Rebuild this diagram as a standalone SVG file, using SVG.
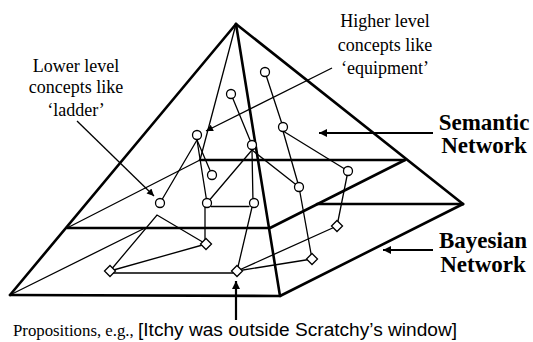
<svg xmlns="http://www.w3.org/2000/svg" width="533" height="342" viewBox="0 0 533 342">
<defs>
<style>
.thick{stroke:#000;stroke-width:2.6;fill:none;stroke-linecap:round;stroke-linejoin:round}
.thin{stroke:#000;stroke-width:1.3;fill:none;stroke-linecap:round}
.lbl{stroke:#000;stroke-width:1.3;fill:none}
.lblb{stroke:#000;stroke-width:2.2;fill:none}
.node{fill:#fff;stroke:#000;stroke-width:1.3}
.t{font-family:"Liberation Serif","Times New Roman",serif;font-size:18px;fill:#000;text-anchor:middle}
.tb{font-family:"Liberation Serif","Times New Roman",serif;font-size:23px;font-weight:bold;fill:#000;text-anchor:middle}
.ts{font-family:"Liberation Serif","Times New Roman",serif;font-size:16.8px;fill:#000}
.tsa{font-family:"Liberation Sans",Arial,sans-serif;font-size:17.5px;fill:#000}
</style>
<marker id="ah" viewBox="0 0 10 10" refX="10" refY="5" markerWidth="9" markerHeight="7" markerUnits="userSpaceOnUse" orient="auto"><path d="M0,0 L10,5 L0,10 z" fill="#000"/></marker>
<marker id="ahb" viewBox="0 0 10 10" refX="10" refY="5" markerWidth="11" markerHeight="8" markerUnits="userSpaceOnUse" orient="auto"><path d="M0,0 L10,5 L0,10 z" fill="#000"/></marker>
</defs>

<g id="pyramid">
<line class="thick" x1="236" y1="24" x2="10" y2="295"/>
<line class="thick" x1="236" y1="24" x2="463" y2="204"/>
<line class="thick" x1="236" y1="24" x2="280" y2="296"/>
<polyline class="thick" points="10,295 280,296 463,204"/>
<polyline class="thick" points="67,228 270,228 405,160"/>
<line class="thick" x1="200" y1="160" x2="405" y2="160"/>
<line class="thick" x1="317" y1="204" x2="463" y2="204"/>
<line class="thin" x1="236" y1="24" x2="200" y2="160"/>
<line class="thin" x1="67" y1="228" x2="200" y2="160"/>
<line class="thin" x1="10" y1="295" x2="145" y2="228"/>
</g>

<g id="connectors">
<line class="thin" x1="265" y1="72" x2="283" y2="127"/>
<line class="thin" x1="231" y1="94" x2="252" y2="145"/>
<line class="thin" x1="197" y1="140" x2="160" y2="203"/>
<line class="thin" x1="197" y1="140" x2="207" y2="203"/>
<line class="thin" x1="197" y1="140" x2="212" y2="175"/>
<line class="thin" x1="252" y1="150" x2="207" y2="203"/>
<line class="thin" x1="252" y1="150" x2="253" y2="203"/>
<line class="thin" x1="252" y1="150" x2="299" y2="187"/>
<line class="thin" x1="283" y1="131" x2="299" y2="187"/>
<line class="thin" x1="283" y1="131" x2="348" y2="171"/>
<line class="thin" x1="211" y1="206.5" x2="249" y2="206.5"/>
<line class="thin" x1="205" y1="203" x2="205" y2="244"/>
<polyline class="thin" points="110,271 157,215 206,244"/>
<line class="thin" x1="110" y1="271" x2="206" y2="244"/>
<line class="thin" x1="112" y1="273" x2="233" y2="273"/>
<line class="thin" x1="237" y1="271" x2="312" y2="259"/>
<line class="thin" x1="237" y1="271" x2="337" y2="226"/>
<line class="thin" x1="253" y1="203" x2="237" y2="271"/>
<line class="thin" x1="299" y1="187" x2="312" y2="259"/>
<line class="thin" x1="348" y1="171" x2="337" y2="226"/>
</g>

<g id="semantic-nodes">
<circle class="node" cx="265" cy="72" r="4.5"/>
<circle class="node" cx="231" cy="94" r="4.5"/>
<circle class="node" cx="197" cy="135" r="4.5"/>
<circle class="node" cx="252" cy="145" r="4.5"/>
<circle class="node" cx="283" cy="127" r="4.5"/>
<circle class="node" cx="212" cy="175" r="4.5"/>
<circle class="node" cx="299" cy="187" r="4.5"/>
<circle class="node" cx="348" cy="171" r="4.5"/>
<circle class="node" cx="160" cy="203" r="4.5"/>
<circle class="node" cx="207" cy="203" r="4.5"/>
<circle class="node" cx="254" cy="203" r="4.5"/>
</g>

<g id="bayesian-nodes">
<path class="node" d="M206,238.5 L211.5,244 L206,249.5 L200.5,244 z"/>
<path class="node" d="M110,265.5 L115.5,271 L110,276.5 L104.5,271 z"/>
<path class="node" d="M237,265.5 L242.5,271 L237,276.5 L231.5,271 z"/>
<path class="node" d="M337,220.5 L342.5,226 L337,231.5 L331.5,226 z"/>
<path class="node" d="M312,253.5 L317.5,259 L312,264.5 L306.5,259 z"/>
</g>

<g id="label-lower">
<text class="t" x="76" y="72">Lower level</text>
<text class="t" x="76" y="93">concepts like</text>
<text class="t" x="76" y="116">‘ladder’</text>
<line class="lbl" x1="77" y1="121" x2="154" y2="196" marker-end="url(#ah)"/>
</g>

<g id="label-higher">
<text class="t" x="385" y="27">Higher level</text>
<text class="t" x="385" y="51">concepts like</text>
<text class="t" x="385" y="74">‘equipment’</text>
<line class="lbl" x1="332" y1="68" x2="206" y2="131" marker-end="url(#ah)"/>
</g>

<g id="label-semantic">
<text class="tb" x="484" y="130">Semantic</text>
<text class="tb" x="484" y="153">Network</text>
<line class="lblb" x1="433" y1="133" x2="319" y2="133" marker-end="url(#ahb)"/>
</g>

<g id="label-bayesian">
<text class="tb" x="483" y="248">Bayesian</text>
<text class="tb" x="483" y="272">Network</text>
<line class="lblb" x1="433" y1="250" x2="383" y2="250" marker-end="url(#ahb)"/>
</g>

<g id="label-propositions">
<text class="ts" x="13" y="336">Propositions, e.g., </text>
<text class="tsa" x="138" y="336" textLength="319" lengthAdjust="spacingAndGlyphs">[Itchy was outside Scratchy’s window]</text>
<line class="lblb" x1="236" y1="320" x2="236" y2="281" marker-end="url(#ahb)"/>
</g>
</svg>
